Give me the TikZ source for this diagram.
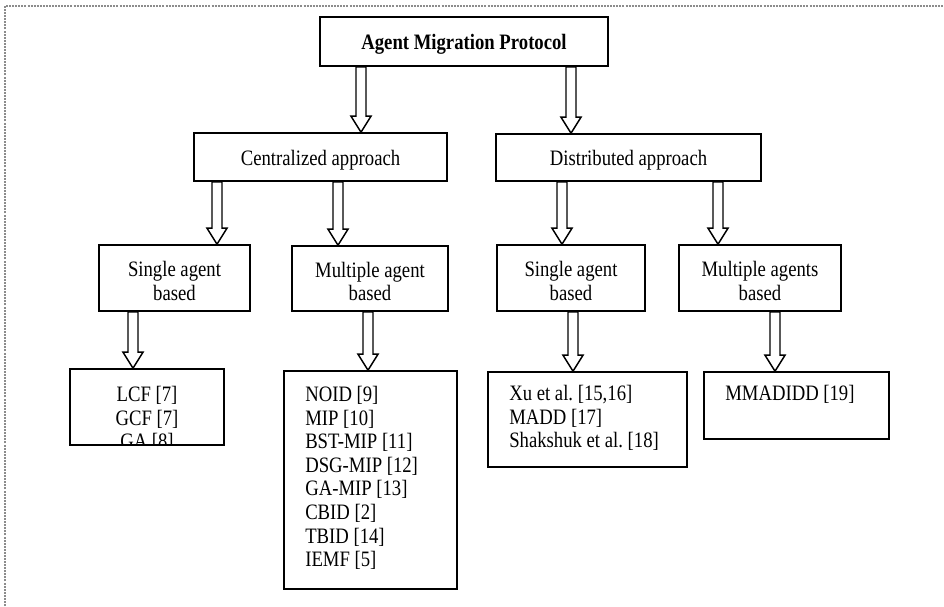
\documentclass[tikz,border=0pt]{standalone}
\usepackage{fontspec}
\setmainfont{Liberation Serif}[FakeStretch=0.85]
\frenchspacing
\usetikzlibrary{calc,fit}
\tikzset{
  box/.style={draw=black, line width=1.2pt, inner sep=0pt, rectangle},
  txt/.style={inner sep=0pt, font=\fontsize{16.5}{17.7}\selectfont, align=center, yshift=-2.25pt},
  lst/.style={inner sep=0pt, font=\fontsize{16.5}{17.7}\selectfont},
  blk/.style={draw=black, fill=white, line width=1.1pt, line join=miter},
  frame/.style={draw=black!45, line width=0.8pt, dash pattern=on 1.5pt off 0.8pt}
}
\newcommand{\blkarrow}[3]{%
  \draw[blk] let \p1=(#2.south), \p2=(#3.north), \p3=(#1,0) in
    (\x3-3.75pt,\y1) -- (\x3-3.75pt,\y2+12pt) -- (\x3-7.5pt,\y2+12pt) -- (\x3,\y2)
    -- (\x3+7.5pt,\y2+12pt) -- (\x3+3.75pt,\y2+12pt) -- (\x3+3.75pt,\y1) -- cycle;}
\begin{document}
\begin{tikzpicture}[x=0.75pt,y=-0.75pt]
\useasboundingbox (0,0) rectangle (944,606);
\draw[frame] (5,606) -- (5,6) -- (944,6);

\node[box, fit={(320,17)(608,66)}, line width=1.4pt] (top) {};
\node[box, fit={(194,133)(447,181)}] (cent) {};
\node[box, fit={(496,134)(761,181)}] (dist) {};
\node[box, fit={(99,245)(250,311)}] (cs) {};
\node[box, fit={(292,246)(448,311)}] (cm) {};
\node[box, fit={(497,245)(645,311)}] (ds) {};
\node[box, fit={(679,245)(841,311)}] (dm) {};
\node[box, fit={(70,369)(224,445)}] (l1) {};
\node[box, fit={(284,371)(457,589)}] (l2) {};
\node[box, fit={(488,372)(687,467)}] (l3) {};
\node[box, fit={(704,372)(889,439)}] (l4) {};

\node[txt, yshift=0pt] (top-t) at (top.center) {\textbf{Agent Migration Protocol}};
\node[txt] (cent-t) at (cent.center) {Centralized approach};
\node[txt] (dist-t) at (dist.center) {Distributed approach};
\node[txt] (cs-t) at (cs.center) {Single agent\\based};
\node[txt] (cm-t) at (cm.center) {Multiple agent\\based};
\node[txt] (ds-t) at (ds.center) {Single agent\\based};
\node[txt] (dm-t) at (dm.center) {Multiple agents\\based};

\begin{scope}
\clip (70,369) rectangle (224,445);
\node[lst, anchor=north, align=center] (t1) at (147,386) {LCF [7]\\GCF [7]\\GA [8]};
\end{scope}
\node[lst, anchor=north west, align=left] (t2) at (305,386) {NOID [9]\\MIP [10]\\BST-MIP [11]\\DSG-MIP [12]\\GA-MIP [13]\\CBID [2]\\TBID [14]\\IEMF [5]};
\node[lst, anchor=north west, align=left] (t3) at (509,385) {Xu et al. [15,16]\\MADD [17]\\Shakshuk et al. [18]};
\node[lst, anchor=north west, align=left] (t4) at (725,385) {MMADIDD [19]};

\blkarrow{361}{top}{cent}
\blkarrow{571}{top}{dist}
\blkarrow{217}{cent}{cs}
\blkarrow{338}{cent}{cm}
\blkarrow{562}{dist}{ds}
\blkarrow{718}{dist}{dm}
\blkarrow{133}{cs}{l1}
\blkarrow{368}{cm}{l2}
\blkarrow{573}{ds}{l3}
\blkarrow{775}{dm}{l4}
\end{tikzpicture}
\end{document}
